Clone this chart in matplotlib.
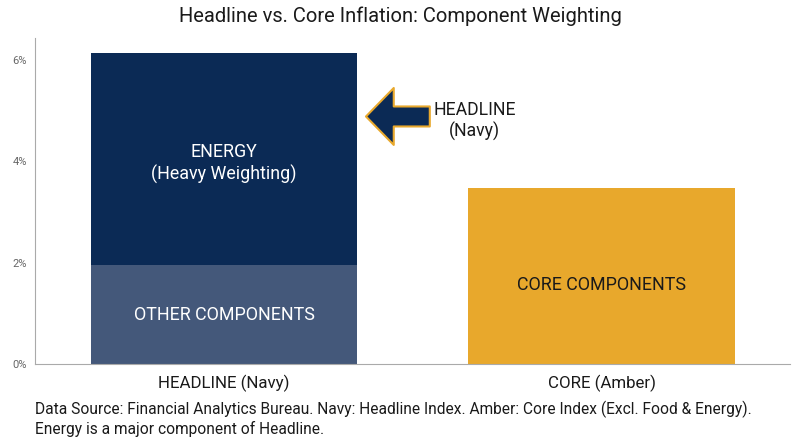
import matplotlib.pyplot as plt
from matplotlib.ticker import FuncFormatter

plt.rcParams['font.family'] = ['Roboto', 'DejaVu Sans']

# data
categories = ['HEADLINE (Navy)', 'CORE (Amber)']
other_components = [1.95, 0.0]
energy = [4.19, 0.0]
core = [0.0, 3.47]

navy = '#0b2a55'
slate = '#44587a'
amber = '#e8a82c'

fig = plt.figure(figsize=(8, 4.47), dpi=100)
ax = fig.add_axes([0.044, 0.186, 0.944, 0.73])

x = [0, 1]
ax.bar(x[0], other_components[0], width=0.707, color=slate)
ax.bar(x[0], energy[0], bottom=other_components[0], width=0.707, color=navy)
ax.bar(x[1], core[1], width=0.707, color=amber)

ax.text(x[0], other_components[0] + energy[0] * 0.48, 'ENERGY\n(Heavy Weighting)',
        ha='center', va='center', color='white', fontsize=12.9, linespacing=1.25)
ax.text(x[0], other_components[0] / 2, 'OTHER COMPONENTS',
        ha='center', va='center', color='white', fontsize=12.9)
ax.text(x[1], core[1] * 0.45, 'CORE COMPONENTS',
        ha='center', va='center', color='#1a1a1a', fontsize=12.9)

# arrow pointing to headline bar
ax.annotate('', xy=(0.376, 4.89), xytext=(0.545, 4.89),
            arrowprops=dict(arrowstyle='simple,head_length=20,head_width=41,tail_width=14.4',
                            fc=navy, ec=amber, lw=1.5, shrinkA=0, shrinkB=0,
                            mutation_scale=1))
ax.text(0.664, 4.8, 'HEADLINE\n(Navy)', ha='center', va='center',
        fontsize=12.7, color='#1a1a1a', linespacing=1.25)

ax.set_xlim(-0.5, 1.5)
ax.set_ylim(0, 6.45)
ax.set_yticks([0, 2, 4, 6])
ax.yaxis.set_major_formatter(FuncFormatter(lambda v, p: f'{v:.0f}%'))
ax.set_xticks(x)
ax.set_xticklabels(categories, fontsize=12.2, color='#1a1a1a')
ax.tick_params(axis='y', length=0, labelsize=8, labelcolor='#666666', pad=6)
ax.tick_params(axis='x', length=0, pad=8)
for s in ['top', 'right']:
    ax.spines[s].set_visible(False)
ax.spines['left'].set_color('#aaaaaa')
ax.spines['bottom'].set_color('#aaaaaa')

fig.suptitle('Headline vs. Core Inflation: Component Weighting', fontsize=14.5,
             y=0.985, color='#1a1a1a')

fig.text(0.044, 0.063, 'Data Source: Financial Analytics Bureau. Navy: Headline Index. '
         'Amber: Core Index (Excl. Food & Energy).\nEnergy is a major component of Headline.',
         fontsize=11.2, va='center', ha='left', color='#1a1a1a', linespacing=1.25)

plt.savefig('out.png', dpi=100)
